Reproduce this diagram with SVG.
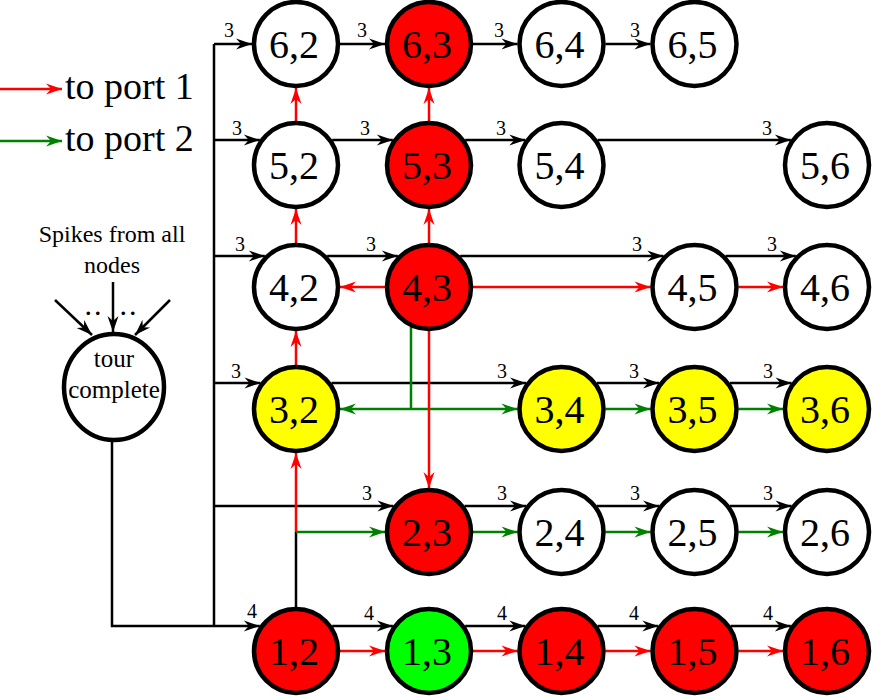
<svg xmlns="http://www.w3.org/2000/svg" width="872" height="697" viewBox="0 0 872 697">
<style>
.n circle{stroke:#000;stroke-width:4.5}
text{font-family:"Liberation Serif","DejaVu Serif",serif;fill:#000}
.lbl{font-size:40px;text-anchor:middle}
.w{font-size:20px;text-anchor:middle}
.k{fill:none;stroke:#000;stroke-width:2.5;marker-end:url(#ak)}
.kn{fill:none;stroke:#000;stroke-width:2.5}
.r{fill:none;stroke:#f00;stroke-width:2.5;marker-end:url(#ar)}
.g{fill:none;stroke:#008000;stroke-width:2.5;marker-end:url(#ag)}
.gn{fill:none;stroke:#008000;stroke-width:2.5}
.wh{fill:#fff}.rd{fill:#f00}.ye{fill:#ff0}.li{fill:#0f0}
</style>
<defs>
<marker id="ak" markerUnits="userSpaceOnUse" markerWidth="20" markerHeight="14" viewBox="-17 -7 18 14" refX="0" refY="0" orient="auto"><path d="M0,0 L-16,-5.5 L-11,0 L-16,5.5 Z" fill="#000"/></marker>
<marker id="ar" markerUnits="userSpaceOnUse" markerWidth="20" markerHeight="14" viewBox="-17 -7 18 14" refX="0" refY="0" orient="auto"><path d="M0,0 L-16,-5.5 L-11,0 L-16,5.5 Z" fill="#f00"/></marker>
<marker id="ag" markerUnits="userSpaceOnUse" markerWidth="20" markerHeight="14" viewBox="-17 -7 18 14" refX="0" refY="0" orient="auto"><path d="M0,0 L-16,-5.5 L-11,0 L-16,5.5 Z" fill="#008000"/></marker>
</defs>
<rect width="872" height="697" fill="#fff"/>

<g id="legend">
<path class="r" d="M0,89 H62"/>
<path class="g" d="M0,141 H62"/>
<text x="65" y="99" font-size="38">to port 1</text>
<text x="65" y="151" font-size="38">to port 2</text>
</g>

<g id="connectors">
<path class="kn" d="M214,44 V626"/>
<path class="k" d="M112,442 V626 H259.8"/>
<path class="kn" d="M296,607 V532"/>
<path class="k" d="M214,44 H252"/>
<path class="k" d="M340,44 H385"/>
<path class="k" d="M473,44 H517.5"/>
<path class="k" d="M605.5,44 H650.5"/>
<path class="k" d="M214,140 H259.8"/>
<path class="k" d="M332.2,140 H392.8"/>
<path class="k" d="M465.2,140 H525.3"/>
<path class="k" d="M597.7,140 H790.8"/>
<path class="k" d="M214,256 H264.8"/>
<path class="k" d="M327.2,256 H397.8"/>
<path class="k" d="M460.2,256 H663.3"/>
<path class="k" d="M725.7,256 H795.8"/>
<path class="k" d="M214,383 H260.5"/>
<path class="k" d="M331.5,383 H526"/>
<path class="k" d="M597,383 H659"/>
<path class="k" d="M730,383 H791.5"/>
<path class="k" d="M214,506 H393.5"/>
<path class="k" d="M464.5,506 H526"/>
<path class="k" d="M597,506 H659"/>
<path class="k" d="M730,506 H791.5"/>
<path class="k" d="M332.2,626 H392.8"/>
<path class="k" d="M465.2,626 H525.3"/>
<path class="k" d="M597.7,626 H658.3"/>
<path class="k" d="M730.7,626 H790.8"/>
<path class="k" d="M113,282 V332"/>
<path class="k" d="M55,300 L92,335"/>
<path class="k" d="M170,300 L135,335"/>
<path class="gn" d="M411,327 V409"/>
<path class="g" d="M411,409 H340"/>
<path class="g" d="M411,409 H517.5"/>
<path class="g" d="M605.5,409 H650.5"/>
<path class="g" d="M738.5,409 H783"/>
<path class="g" d="M296,532 H385"/>
<path class="g" d="M473,532 H517.5"/>
<path class="g" d="M605.5,532 H650.5"/>
<path class="g" d="M738.5,532 H783"/>
<path class="r" d="M296,532 V453"/>
<path class="r" d="M296,365 V331"/>
<path class="r" d="M296,243 V209"/>
<path class="r" d="M296,121 V88"/>
<path class="r" d="M429,121 V88"/>
<path class="r" d="M429,243 V209"/>
<path class="r" d="M429,331 V488"/>
<path class="r" d="M385,287 H340"/>
<path class="r" d="M473,287 H650.5"/>
<path class="r" d="M738.5,287 H783"/>
<path class="r" d="M340,651 H385"/>
<path class="r" d="M473,651 H517.5"/>
<path class="r" d="M605.5,651 H650.5"/>
<path class="r" d="M738.5,651 H783"/>
<text class="w" x="229" y="37">3</text>
<text class="w" x="362" y="37">3</text>
<text class="w" x="499" y="37">3</text>
<text class="w" x="635" y="37">3</text>
<text class="w" x="237" y="135">3</text>
<text class="w" x="365" y="135">3</text>
<text class="w" x="501" y="135">3</text>
<text class="w" x="767" y="135">3</text>
<text class="w" x="240" y="251">3</text>
<text class="w" x="371" y="251">3</text>
<text class="w" x="637" y="251">3</text>
<text class="w" x="772" y="251">3</text>
<text class="w" x="236" y="378">3</text>
<text class="w" x="502" y="378">3</text>
<text class="w" x="634" y="378">3</text>
<text class="w" x="768" y="378">3</text>
<text class="w" x="367" y="500">3</text>
<text class="w" x="502" y="500">3</text>
<text class="w" x="635" y="500">3</text>
<text class="w" x="768" y="500">3</text>
<text class="w" x="252" y="618">4</text>
<text class="w" x="369" y="620">4</text>
<text class="w" x="502" y="620">4</text>
<text class="w" x="634" y="620">4</text>
<text class="w" x="768" y="620">4</text>
</g>

<g id="tour">
<ellipse cx="114" cy="387" rx="50" ry="53" fill="#fff" stroke="#000" stroke-width="4.5"/>
<text x="114" y="367" font-size="25" text-anchor="middle">tour</text>
<text x="114" y="398" font-size="25" text-anchor="middle">complete</text>
</g>
<g id="spikes-label">
<text x="112" y="242" font-size="24" text-anchor="middle">Spikes from all</text>
<text x="112" y="273" font-size="24" text-anchor="middle">nodes</text>
<text x="94" y="315" font-size="30" text-anchor="middle" letter-spacing="2">..</text>
<text x="129" y="315" font-size="30" text-anchor="middle" letter-spacing="2">..</text>
</g>

<g id="n62" class="n"><circle cx="296" cy="44" r="42" class="wh"/><text class="lbl" x="294" y="58">6,2</text></g>
<g id="n63" class="n"><circle cx="429" cy="44" r="42" class="rd"/><text class="lbl" x="427" y="58">6,3</text></g>
<g id="n64" class="n"><circle cx="561.5" cy="44" r="42" class="wh"/><text class="lbl" x="559.5" y="58">6,4</text></g>
<g id="n65" class="n"><circle cx="694.5" cy="44" r="42" class="wh"/><text class="lbl" x="692.5" y="58">6,5</text></g>
<g id="n52" class="n"><circle cx="296" cy="165" r="42" class="wh"/><text class="lbl" x="294" y="179">5,2</text></g>
<g id="n53" class="n"><circle cx="429" cy="165" r="42" class="rd"/><text class="lbl" x="427" y="179">5,3</text></g>
<g id="n54" class="n"><circle cx="561.5" cy="165" r="42" class="wh"/><text class="lbl" x="559.5" y="179">5,4</text></g>
<g id="n56" class="n"><circle cx="827" cy="165" r="42" class="wh"/><text class="lbl" x="825" y="179">5,6</text></g>
<g id="n42" class="n"><circle cx="296" cy="287" r="42" class="wh"/><text class="lbl" x="294" y="301">4,2</text></g>
<g id="n43" class="n"><circle cx="429" cy="287" r="42" class="rd"/><text class="lbl" x="427" y="301">4,3</text></g>
<g id="n45" class="n"><circle cx="694.5" cy="287" r="42" class="wh"/><text class="lbl" x="692.5" y="301">4,5</text></g>
<g id="n46" class="n"><circle cx="827" cy="287" r="42" class="wh"/><text class="lbl" x="825" y="301">4,6</text></g>
<g id="n32" class="n"><circle cx="296" cy="409" r="42" class="ye"/><text class="lbl" x="294" y="423">3,2</text></g>
<g id="n34" class="n"><circle cx="561.5" cy="409" r="42" class="ye"/><text class="lbl" x="559.5" y="423">3,4</text></g>
<g id="n35" class="n"><circle cx="694.5" cy="409" r="42" class="ye"/><text class="lbl" x="692.5" y="423">3,5</text></g>
<g id="n36" class="n"><circle cx="827" cy="409" r="42" class="ye"/><text class="lbl" x="825" y="423">3,6</text></g>
<g id="n23" class="n"><circle cx="429" cy="532" r="42" class="rd"/><text class="lbl" x="427" y="546">2,3</text></g>
<g id="n24" class="n"><circle cx="561.5" cy="532" r="42" class="wh"/><text class="lbl" x="559.5" y="546">2,4</text></g>
<g id="n25" class="n"><circle cx="694.5" cy="532" r="42" class="wh"/><text class="lbl" x="692.5" y="546">2,5</text></g>
<g id="n26" class="n"><circle cx="827" cy="532" r="42" class="wh"/><text class="lbl" x="825" y="546">2,6</text></g>
<g id="n12" class="n"><circle cx="296" cy="651" r="42" class="rd"/><text class="lbl" x="294" y="665">1,2</text></g>
<g id="n13" class="n"><circle cx="429" cy="651" r="42" class="li"/><text class="lbl" x="427" y="665">1,3</text></g>
<g id="n14" class="n"><circle cx="561.5" cy="651" r="42" class="rd"/><text class="lbl" x="559.5" y="665">1,4</text></g>
<g id="n15" class="n"><circle cx="694.5" cy="651" r="42" class="rd"/><text class="lbl" x="692.5" y="665">1,5</text></g>
<g id="n16" class="n"><circle cx="827" cy="651" r="42" class="rd"/><text class="lbl" x="825" y="665">1,6</text></g>
</svg>
